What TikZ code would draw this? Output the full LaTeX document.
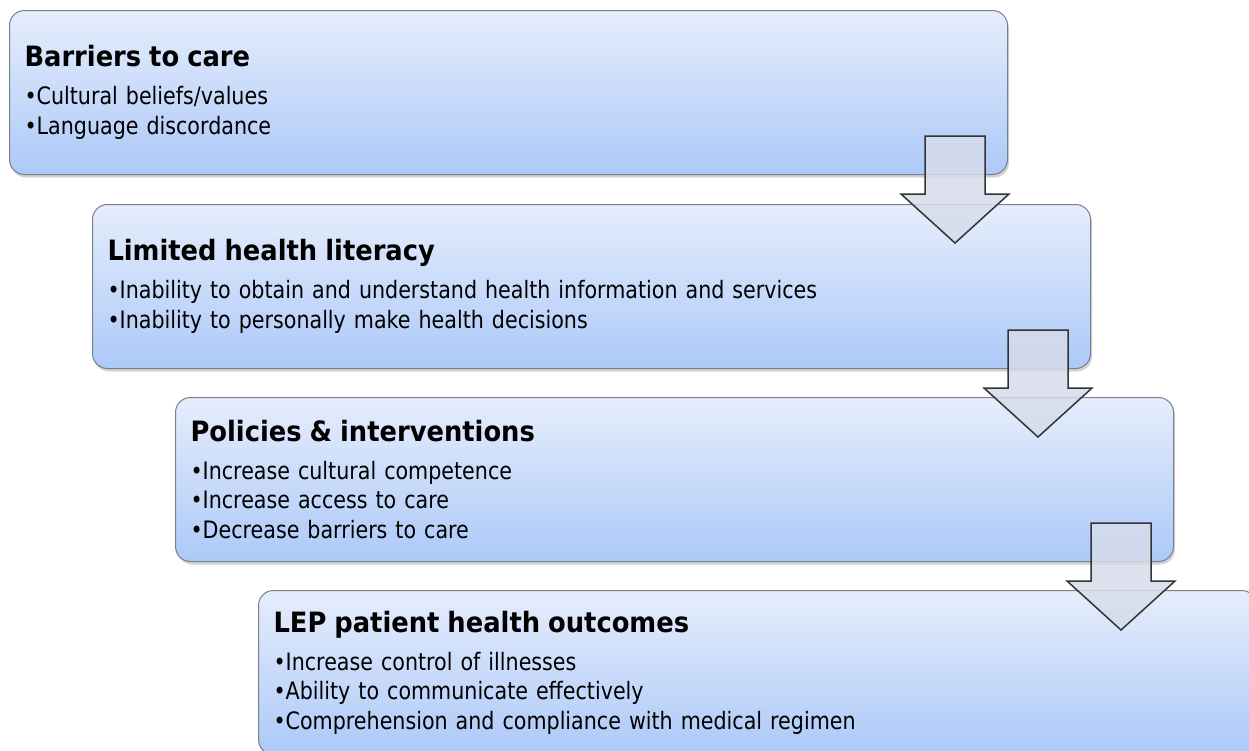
\documentclass[tikz,border=0pt]{standalone}
\usepackage{fontspec}
\setmainfont{DejaVu Sans}[FakeStretch=0.86]
\newfontfamily\titlefont{DejaVu Sans}[FakeStretch=0.92]
\usetikzlibrary{calc,positioning,shadows}

\definecolor{boxtop}{RGB}{230,237,252}
\definecolor{boxbot}{RGB}{172,201,248}
\definecolor{boxline}{RGB}{120,128,140}
\definecolor{arrowfill}{RGB}{214,220,234}
\definecolor{arrowline}{RGB}{51,51,51}

\newcommand{\stagetitle}[1]{{\titlefont\fontsize{28}{34}\selectfont\bfseries #1}\\[8.5pt]}

\tikzset{
  stagebox/.style={draw=boxline, line width=1pt, rounded corners=15pt,
    top color=boxtop, bottom color=boxbot, anchor=north west,
    minimum width=998pt, minimum height=164pt, text width=968pt,
    inner xsep=15pt, align=left, font=\fontsize{24}{29.5}\selectfont,
    drop shadow={shadow xshift=1.5pt, shadow yshift=-3pt, opacity=0.35}},
  blockarrow/.style={draw=arrowline, fill=arrowfill, fill opacity=0.85,
    line width=1.5pt, line join=miter}
}

\begin{document}
\begin{tikzpicture}[x=1pt, y=-1pt]
    \useasboundingbox (0,0) rectangle (1249,750);
    \clip (0,0) rectangle (1249,750);
    \node[stagebox] (barriers) at (9,10) {\stagetitle{Barriers to care}
      •Cultural beliefs/values\\
      •Language discordance};
    \node[stagebox] (literacy) at (92,204) {\stagetitle{Limited health literacy}
      •Inability to obtain and understand health information and services\\
      •Inability to personally make health decisions};
    \node[stagebox] (policies) at (175,397) {\stagetitle{Policies \& interventions}
      •Increase cultural competence\\
      •Increase access to care\\
      •Decrease barriers to care};
    \node[stagebox] (outcomes) at (258,590) {\stagetitle{LEP patient health outcomes}
      •Increase control of illnesses\\
      •Ability to communicate effectively\\
      •Comprehension and compliance with medical regimen};
    % block arrows between the stages
    \coordinate (a1) at ($(barriers.south east)+(-53,-39)$);
    \coordinate (a2) at ($(literacy.south east)+(-53,-39)$);
    \coordinate (a3) at ($(policies.south east)+(-53,-39)$);
    \draw[blockarrow] ($(a1)+(-30,0)$) -- ++(60,0) -- ++(0,58) -- ++(24,0)
      -- ($(a1)+(0,107)$) -- ($(a1)+(-54,58)$) -- ++(24,0) -- cycle;
    \draw[blockarrow] ($(a2)+(-30,0)$) -- ++(60,0) -- ++(0,58) -- ++(24,0)
      -- ($(a2)+(0,107)$) -- ($(a2)+(-54,58)$) -- ++(24,0) -- cycle;
    \draw[blockarrow] ($(a3)+(-30,0)$) -- ++(60,0) -- ++(0,58) -- ++(24,0)
      -- ($(a3)+(0,107)$) -- ($(a3)+(-54,58)$) -- ++(24,0) -- cycle;
\end{tikzpicture}
\end{document}
